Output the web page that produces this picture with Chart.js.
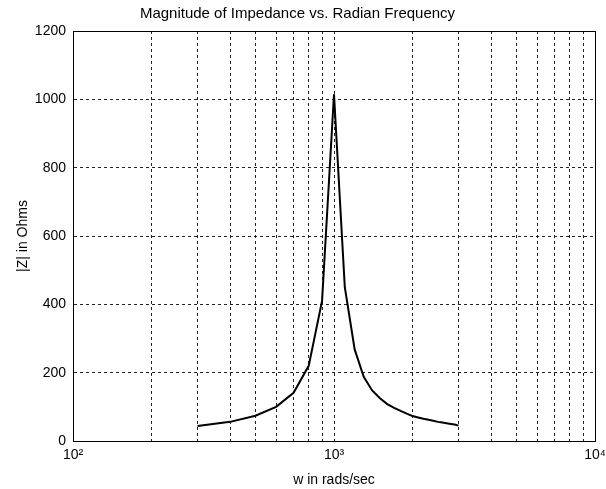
<!DOCTYPE html>
<html>
<head>
<meta charset="utf-8">
<script src="https://cdn.jsdelivr.net/npm/chart.js@4.4.1/dist/chart.umd.min.js"></script>
<style>
  html, body { margin: 0; padding: 0; background: #fff; }
  #wrap { width: 606px; height: 489px; }
</style>
</head>
<body>
<div id="wrap"><canvas id="zplot" width="606" height="489"></canvas></div>
<script>
// radian frequency samples (rad/s)
const freqs = [300, 400, 500, 600, 700, 800, 900, 1000,
  1100, 1200, 1300, 1400, 1500, 1600, 1700, 1800, 1900, 2000,
  2100, 2200, 2300, 2400, 2500, 2600, 2700, 2800, 2900, 3000];
// |Z| (ohms)
const impedance = [44, 56, 74, 100, 141, 220, 410, 1015,
  450, 268, 188, 148, 125, 108, 97, 88, 80, 73,
  69, 65, 62, 59, 56, 54, 52, 50, 48, 45];

const xGridTicks = [100, 200, 300, 400, 500, 600, 700, 800, 900,
  1000, 2000, 3000, 4000, 5000, 6000, 7000, 8000, 9000, 10000];
const xTickLabels = { 100: '10\u00B2', 1000: '10\u00B3', 10000: '10\u2074' };
const yTicks = [0, 200, 400, 600, 800, 1000, 1200];

const fontFamily = '"Liberation Sans", Arial, Helvetica, sans-serif';

const points = freqs.map((w, i) => ({ x: w, y: impedance[i] }));

const frame = {
  id: 'frame',
  afterDraw(chart) {
    const { ctx, chartArea: a } = chart;
    ctx.save();
    ctx.strokeStyle = '#000';
    ctx.lineWidth = 1;
    ctx.strokeRect(a.left + 0.5, a.top + 0.5, a.right - a.left, a.bottom - a.top);
    ctx.restore();
  }
};

const gridStyle = { color: '#222', lineWidth: 1, drawTicks: false };
const borderStyle = { display: true, color: '#000', width: 1, dash: [3, 3] };

new Chart('zplot', {
  type: 'line',
  data: {
    datasets: [{
      data: points,
      borderColor: '#000',
      borderWidth: 2,
      pointRadius: 0,
      tension: 0,
      fill: false
    }]
  },
  options: {
    responsive: false,
    animation: false,
    layout: { padding: { left: 0, right: 11, top: 0, bottom: 0 } },
    plugins: {
      legend: { display: false },
      tooltip: { enabled: false },
      title: {
        display: true,
        text: 'Magnitude of Impedance vs. Radian Frequency',
        color: '#000',
        font: { family: fontFamily, size: 15, weight: 'normal' },
        padding: { top: 5, bottom: 8 }
      }
    },
    scales: {
      x: {
        type: 'logarithmic',
        min: 100,
        max: 10000,
        afterBuildTicks(scale) {
          scale.ticks = xGridTicks.map(v => ({ value: v }));
        },
        afterFit(scale) {
          scale.height = 48;
          scale.paddingRight = 0;
          scale.paddingLeft = 0;
        },
        ticks: {
          autoSkip: false,
          maxRotation: 0,
          padding: 6,
          color: '#000',
          font: { family: fontFamily, size: 14 },
          callback: (v) => xTickLabels[v] || ''
        },
        grid: gridStyle,
        border: borderStyle,
        title: {
          display: true,
          text: 'w in rads/sec',
          color: '#000',
          font: { family: fontFamily, size: 14 },
          padding: { top: 4, bottom: 0 }
        }
      },
      y: {
        min: 0,
        max: 1200,
        afterBuildTicks(scale) {
          scale.ticks = yTicks.map(v => ({ value: v }));
        },
        afterFit(scale) { scale.width = 73; },
        ticks: {
          padding: 7,
          color: '#000',
          font: { family: fontFamily, size: 14 },
          callback: (v) => String(v)
        },
        grid: gridStyle,
        border: borderStyle,
        title: {
          display: true,
          text: '|Z| in Ohms',
          color: '#000',
          font: { family: fontFamily, size: 14 },
          padding: { top: 15, bottom: 0 }
        }
      }
    }
  },
  plugins: [frame]
});
</script>
</body>
</html>
